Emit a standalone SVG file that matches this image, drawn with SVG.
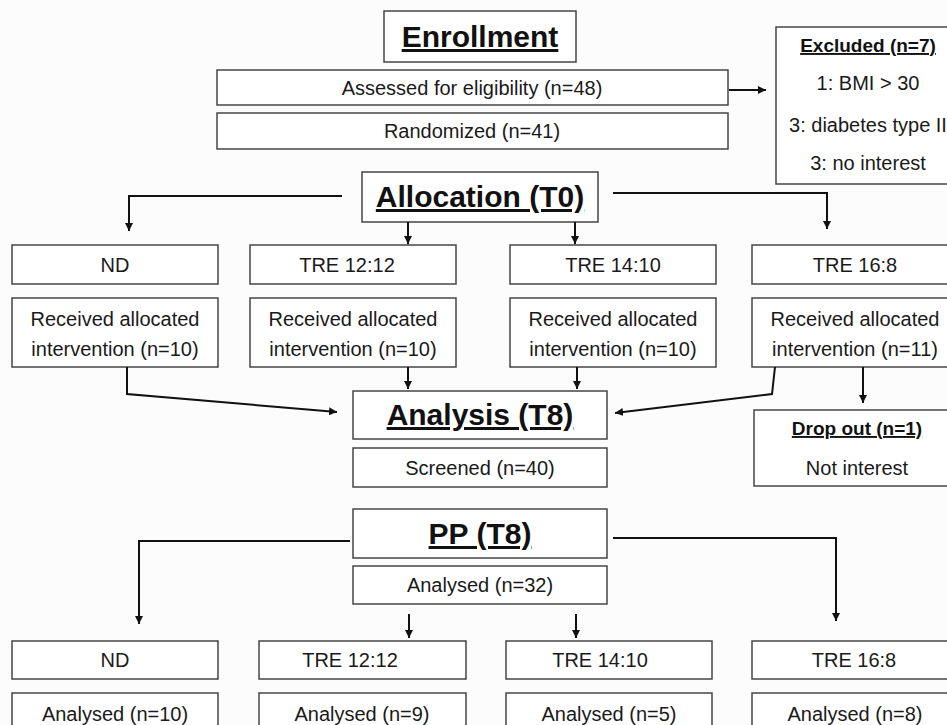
<svg xmlns="http://www.w3.org/2000/svg" width="947" height="725" viewBox="0 0 947 725">
<style>
.box{fill:#ffffff;stroke:#454545;stroke-width:1.5}
.t{font-family:"Liberation Sans",Arial,sans-serif;font-size:20px;fill:#1a1a1a;text-anchor:middle}
.h{font-family:"Liberation Sans",Arial,sans-serif;font-size:30px;font-weight:bold;fill:#111;text-anchor:middle;text-decoration:underline}
.hs{font-family:"Liberation Sans",Arial,sans-serif;font-size:19px;font-weight:bold;fill:#111;text-anchor:middle;text-decoration:underline}
.c{fill:none;stroke:#111;stroke-width:2;marker-end:url(#ah)}
</style>
<defs>
<marker id="ah" viewBox="0 0 10 10" refX="10" refY="5" markerWidth="8" markerHeight="8" markerUnits="userSpaceOnUse" orient="auto">
<path d="M0,0 L10,5 L0,10 z" fill="#111"/>
</marker>
</defs>
<rect x="0" y="0" width="947" height="725" fill="#fcfcfc"/>

<g id="enrollment"><rect class="box" x="384" y="11" width="192" height="51"/><text class="h" x="480" y="47">Enrollment</text></g>
<g id="assessed"><rect class="box" x="217" y="70" width="511" height="35"/><text class="t" x="472" y="95">Assessed for eligibility (n=48)</text></g>
<g id="randomized"><rect class="box" x="217" y="113" width="511" height="36"/><text class="t" x="472" y="138">Randomized (n=41)</text></g>
<g id="excluded"><rect class="box" x="776" y="27" width="184" height="157"/>
<text class="hs" x="868" y="52">Excluded (n=7)</text>
<text class="t" x="868" y="90">1: BMI &gt; 30</text>
<text class="t" x="868" y="132">3: diabetes type II</text>
<text class="t" x="868" y="170">3: no interest</text></g>

<g id="allocation"><rect class="box" x="362" y="172" width="236" height="50"/><text class="h" x="480" y="207">Allocation (T0)</text></g>

<g id="nd1"><rect class="box" x="12" y="245" width="206" height="39"/><text class="t" x="115" y="272">ND</text></g>
<g id="tre1212a"><rect class="box" x="250" y="245" width="206" height="39"/><text class="t" x="347" y="272">TRE 12:12</text></g>
<g id="tre1410a"><rect class="box" x="510" y="245" width="206" height="39"/><text class="t" x="613" y="272">TRE 14:10</text></g>
<g id="tre168a"><rect class="box" x="752" y="245" width="206" height="39"/><text class="t" x="855" y="272">TRE 16:8</text></g>

<g id="rec1"><rect class="box" x="12" y="298" width="206" height="69"/><text class="t" x="115" y="326">Received allocated</text><text class="t" x="115" y="356">intervention (n=10)</text></g>
<g id="rec2"><rect class="box" x="250" y="298" width="206" height="69"/><text class="t" x="353" y="326">Received allocated</text><text class="t" x="353" y="356">intervention (n=10)</text></g>
<g id="rec3"><rect class="box" x="510" y="298" width="206" height="69"/><text class="t" x="613" y="326">Received allocated</text><text class="t" x="613" y="356">intervention (n=10)</text></g>
<g id="rec4"><rect class="box" x="752" y="298" width="206" height="69"/><text class="t" x="855" y="326">Received allocated</text><text class="t" x="855" y="356">intervention (n=11)</text></g>

<g id="analysis"><rect class="box" x="353" y="391" width="254" height="48"/><text class="h" x="480" y="425">Analysis (T8)</text></g>
<g id="screened"><rect class="box" x="353" y="448" width="254" height="39"/><text class="t" x="480" y="475">Screened (n=40)</text></g>
<g id="dropout"><rect class="box" x="754" y="410" width="206" height="76"/><text class="hs" x="857" y="435">Drop out (n=1)</text><text class="t" x="857" y="475">Not interest</text></g>

<g id="pp"><rect class="box" x="353" y="509" width="254" height="49"/><text class="h" x="480" y="544">PP (T8)</text></g>
<g id="analysed32"><rect class="box" x="353" y="566" width="254" height="38"/><text class="t" x="480" y="592">Analysed (n=32)</text></g>

<g id="nd2"><rect class="box" x="12" y="641" width="206" height="38"/><text class="t" x="115" y="667">ND</text></g>
<g id="tre1212b"><rect class="box" x="259" y="641" width="207" height="38"/><text class="t" x="350" y="667">TRE 12:12</text></g>
<g id="tre1410b"><rect class="box" x="506" y="641" width="206" height="38"/><text class="t" x="600" y="667">TRE 14:10</text></g>
<g id="tre168b"><rect class="box" x="752" y="641" width="206" height="38"/><text class="t" x="854" y="667">TRE 16:8</text></g>

<g id="an1"><rect class="box" x="12" y="693" width="206" height="45"/><text class="t" x="115" y="721">Analysed (n=10)</text></g>
<g id="an2"><rect class="box" x="259" y="693" width="207" height="45"/><text class="t" x="362" y="721">Analysed (n=9)</text></g>
<g id="an3"><rect class="box" x="506" y="693" width="206" height="45"/><text class="t" x="609" y="721">Analysed (n=5)</text></g>
<g id="an4"><rect class="box" x="752" y="693" width="206" height="45"/><text class="t" x="855" y="721">Analysed (n=8)</text></g>

<g id="connectors">
<path class="c" d="M729,90 H766"/>
<path class="c" d="M342,196 H129 V231"/>
<path class="c" d="M613,193 H827 V229"/>
<path class="c" d="M408,222 V244"/>
<path class="c" d="M575,222 V244"/>
<path class="c" d="M127,367 V394 L337,412"/>
<path class="c" d="M408,367 V389"/>
<path class="c" d="M577,367 V389"/>
<path class="c" d="M775,367 L772,394 L615,413"/>
<path class="c" d="M863,367 V403"/>
<path class="c" d="M350,541 H139 V624"/>
<path class="c" d="M613,538 H836 V621"/>
<path class="c" d="M409,614 V638"/>
<path class="c" d="M576,614 V638"/>
</g>
</svg>
